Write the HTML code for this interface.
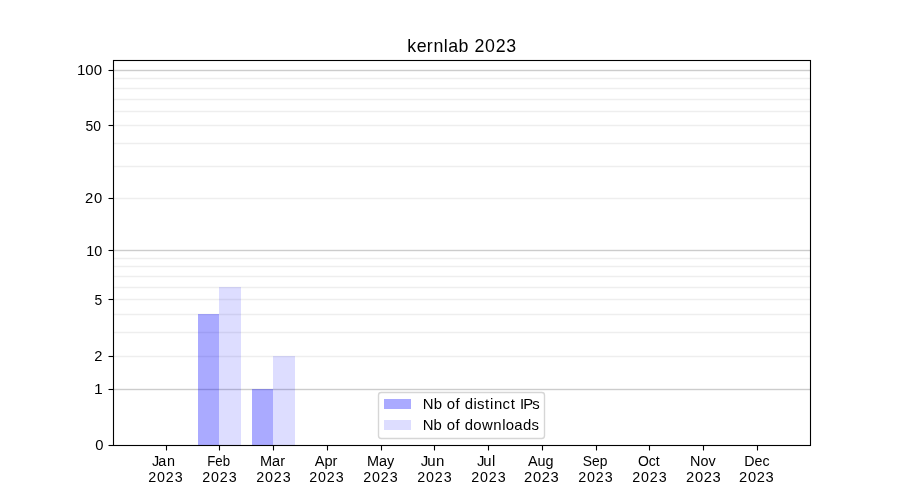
<!DOCTYPE html>
<html><head><meta charset="utf-8"><title>kernlab 2023</title>
<style>
html,body{margin:0;padding:0;background:#fff;width:900px;height:500px;overflow:hidden}
svg{display:block}
text{font-family:"Liberation Sans",sans-serif;fill:#000}
#texts{will-change:transform}
</style></head><body>
<svg width="900" height="500" viewBox="0 0 900 500">
<rect x="0" y="0" width="900" height="500" fill="#fff"/>
<g id="grid" shape-rendering="crispEdges">
<rect x="113" y="77" width="698" height="3" fill="#fbfbfb"/><rect x="113" y="78" width="698" height="1" fill="#eeeeee"/>
<rect x="113" y="87" width="698" height="3" fill="#fbfbfb"/><rect x="113" y="88" width="698" height="1" fill="#eeeeee"/>
<rect x="113" y="98" width="698" height="3" fill="#fbfbfb"/><rect x="113" y="99" width="698" height="1" fill="#eeeeee"/>
<rect x="113" y="110" width="698" height="3" fill="#fbfbfb"/><rect x="113" y="111" width="698" height="1" fill="#eeeeee"/>
<rect x="113" y="124" width="698" height="3" fill="#fbfbfb"/><rect x="113" y="125" width="698" height="1" fill="#eeeeee"/>
<rect x="113" y="142" width="698" height="3" fill="#fbfbfb"/><rect x="113" y="143" width="698" height="1" fill="#eeeeee"/>
<rect x="113" y="165" width="698" height="3" fill="#fbfbfb"/><rect x="113" y="166" width="698" height="1" fill="#eeeeee"/>
<rect x="113" y="197" width="698" height="3" fill="#fbfbfb"/><rect x="113" y="198" width="698" height="1" fill="#eeeeee"/>
<rect x="113" y="257" width="698" height="3" fill="#fbfbfb"/><rect x="113" y="258" width="698" height="1" fill="#eeeeee"/>
<rect x="113" y="265" width="698" height="3" fill="#fbfbfb"/><rect x="113" y="266" width="698" height="1" fill="#eeeeee"/>
<rect x="113" y="275" width="698" height="3" fill="#fbfbfb"/><rect x="113" y="276" width="698" height="1" fill="#eeeeee"/>
<rect x="113" y="286" width="698" height="3" fill="#fbfbfb"/><rect x="113" y="287" width="698" height="1" fill="#eeeeee"/>
<rect x="113" y="298" width="698" height="3" fill="#fbfbfb"/><rect x="113" y="299" width="698" height="1" fill="#eeeeee"/>
<rect x="113" y="313" width="698" height="3" fill="#fbfbfb"/><rect x="113" y="314" width="698" height="1" fill="#eeeeee"/>
<rect x="113" y="331" width="698" height="3" fill="#fbfbfb"/><rect x="113" y="332" width="698" height="1" fill="#eeeeee"/>
<rect x="113" y="355" width="698" height="3" fill="#fbfbfb"/><rect x="113" y="356" width="698" height="1" fill="#eeeeee"/>
<rect x="113" y="69" width="698" height="3" fill="#f5f5f5"/><rect x="113" y="70" width="698" height="1" fill="#cccccc"/>
<rect x="113" y="249" width="698" height="3" fill="#f5f5f5"/><rect x="113" y="250" width="698" height="1" fill="#cccccc"/>
<rect x="113" y="388" width="698" height="3" fill="#f5f5f5"/><rect x="113" y="389" width="698" height="1" fill="#cccccc"/>
</g>
<g id="bars" fill="#0000ff" shape-rendering="crispEdges">
<rect x="198" y="314" width="21" height="131" fill-opacity="0.3333"/>
<rect x="219" y="287" width="22" height="158" fill-opacity="0.1333"/>
<rect x="252" y="389" width="21" height="56" fill-opacity="0.3333"/>
<rect x="273" y="356" width="22" height="89" fill-opacity="0.1333"/>
</g>
<g id="axes" stroke="#000" stroke-width="1.111" fill="none">
<rect x="113.5" y="60.5" width="697" height="385"/>
<line x1="108.5" y1="70.5" x2="113.5" y2="70.5"/>
<line x1="108.5" y1="125.5" x2="113.5" y2="125.5"/>
<line x1="108.5" y1="198.5" x2="113.5" y2="198.5"/>
<line x1="108.5" y1="250.5" x2="113.5" y2="250.5"/>
<line x1="108.5" y1="299.5" x2="113.5" y2="299.5"/>
<line x1="108.5" y1="356.5" x2="113.5" y2="356.5"/>
<line x1="108.5" y1="389.5" x2="113.5" y2="389.5"/>
<line x1="108.5" y1="445.5" x2="113.5" y2="445.5"/>
<line x1="166.5" y1="445.5" x2="166.5" y2="450.5"/>
<line x1="219.5" y1="445.5" x2="219.5" y2="450.5"/>
<line x1="273.5" y1="445.5" x2="273.5" y2="450.5"/>
<line x1="327.5" y1="445.5" x2="327.5" y2="450.5"/>
<line x1="381.5" y1="445.5" x2="381.5" y2="450.5"/>
<line x1="434.5" y1="445.5" x2="434.5" y2="450.5"/>
<line x1="488.5" y1="445.5" x2="488.5" y2="450.5"/>
<line x1="542.5" y1="445.5" x2="542.5" y2="450.5"/>
<line x1="596.5" y1="445.5" x2="596.5" y2="450.5"/>
<line x1="649.5" y1="445.5" x2="649.5" y2="450.5"/>
<line x1="703.5" y1="445.5" x2="703.5" y2="450.5"/>
<line x1="757.5" y1="445.5" x2="757.5" y2="450.5"/>
</g>
<g id="legend">
<rect x="378.5" y="392.5" width="166" height="46" rx="2.78" ry="2.78" fill="#fff" fill-opacity="0.8" stroke="#cccccc" stroke-opacity="0.8" stroke-width="1.389"/>
<rect x="384" y="399" width="27" height="10" fill="#0000ff" fill-opacity="0.3333" shape-rendering="crispEdges"/>
<rect x="384" y="420" width="27" height="10" fill="#0000ff" fill-opacity="0.1333" shape-rendering="crispEdges"/>
</g>
<g id="texts">
<text id="title" x="439.76 449.97 460.71 467.97 479.06 483.86 495.09 506.14 512.24 523.69 535.13 546.58" y="51.75" font-size="19.2" transform="scale(0.9263,1)">kernlab 2023</text>
<text id="y100" x="77" y="74.5" font-size="13.97" textLength="25.02" lengthAdjust="spacingAndGlyphs">100</text>
<text id="y50" x="85.5" y="130.5" font-size="14.4" textLength="15.47" lengthAdjust="spacingAndGlyphs">50</text>
<text id="y20" x="82.78 91.38" y="202.75" font-size="14.4" transform="scale(1.0275,1)">20</text>
<text id="y10" x="86.25" y="255.5" font-size="14.83" textLength="16.02" lengthAdjust="spacingAndGlyphs">10</text>
<text id="y5" x="98.17" y="304.75" font-size="14.4" transform="scale(0.9633,1)">5</text>
<text id="y2" x="92.22" y="360.75" font-size="14.4" transform="scale(1.0228,1)">2</text>
<text id="y1" x="86.2" y="393.75" font-size="14.4" transform="scale(1.0910,1)">1</text>
<text id="y0" x="92.76" y="449.75" font-size="14.4" transform="scale(1.0275,1)">0</text>
<text id="m0" x="151.85 158.1 166.74" y="465.75" font-size="14.4" transform="scale(1.0013,1)">Jan</text>
<text id="d0" x="144.89 153.53 162.16 170.8" y="481.75" font-size="13.97" transform="scale(1.0228,1)">2023</text>
<text id="m1" x="207.25" y="465.5" font-size="14.83" textLength="22.81" lengthAdjust="spacingAndGlyphs">Feb</text>
<text id="d1" x="203.61 212.51 221.4 230.3" y="482" font-size="14.4" transform="scale(0.9931,1)">2023</text>
<text id="m2" x="260" y="465.5" font-size="14.83" textLength="25.02" lengthAdjust="spacingAndGlyphs">Mar</text>
<text id="d2" x="250.47 259.11 267.75 276.39" y="482" font-size="13.97" transform="scale(1.0228,1)">2023</text>
<text id="m3" x="314.75" y="465.5" font-size="13.97" textLength="22.7" lengthAdjust="spacingAndGlyphs">Apr</text>
<text id="d3" x="302.29 310.93 319.57 328.21" y="482" font-size="13.97" transform="scale(1.0228,1)">2023</text>
<text id="m4" x="367" y="465.5" font-size="13.97" textLength="27.34" lengthAdjust="spacingAndGlyphs">May</text>
<text id="d4" x="355.08 363.72 372.36 381" y="482" font-size="13.97" transform="scale(1.0228,1)">2023</text>
<text id="m5" x="414.86 421.16 429.83" y="465.75" font-size="14.83" transform="scale(1.0145,1)">Jun</text>
<text id="d5" x="407.88 416.52 425.16 433.8" y="481.75" font-size="13.97" transform="scale(1.0228,1)">2023</text>
<text id="m6" x="478.18 484.59 493.41" y="465.75" font-size="14.83" transform="scale(0.9974,1)">Jul</text>
<text id="d6" x="460.67 469.31 477.95 486.59" y="481.75" font-size="13.97" transform="scale(1.0228,1)">2023</text>
<text id="m7" x="528" y="465.5" font-size="14.4">Aug</text>
<text id="d7" x="527.74 536.64 545.54 554.43" y="481.75" font-size="14.83" transform="scale(0.9931,1)">2023</text>
<text id="m8" x="582.75" y="465.5" font-size="13.97" textLength="24.61" lengthAdjust="spacingAndGlyphs">Sep</text>
<text id="d8" x="565.28 573.92 582.56 591.2" y="482" font-size="13.97" transform="scale(1.0228,1)">2023</text>
<text id="m9" x="638" y="465.5" font-size="13.97">Oct</text>
<text id="d9" x="618.08 626.72 635.36 643.99" y="482" font-size="13.97" transform="scale(1.0228,1)">2023</text>
<text id="m10" x="690" y="465.5" font-size="14.4">Nov</text>
<text id="d10" x="690.87 699.77 708.67 717.57" y="482" font-size="14.83" transform="scale(0.9931,1)">2023</text>
<text id="m11" x="744.25" y="465.5" font-size="13.97" textLength="25.33" lengthAdjust="spacingAndGlyphs">Dec</text>
<text id="d11" x="744.24 753.14 762.04 770.94" y="482" font-size="14.83" transform="scale(0.9931,1)">2023</text>
<text id="leg1" x="408.12 418.58 426.84 431.2 439.78 444.02 448.54 457.06 460.41 468.13 473.02 476.73 485.07 492.98 497.61 501.85 505.07 513.8" y="408.75" font-size="14.4" transform="scale(1.0360,1)">Nb of distinct IPs</text>
<text id="leg2" x="407.95 418.41 426.67 431.02 439.6 443.84 448.35 456.7 465.08 476.01 484.52 488.08 496.28 504.64 512.79" y="429.75" font-size="14.4" transform="scale(1.0364,1)">Nb of downloads</text>
</g>
</svg>
</body></html>
